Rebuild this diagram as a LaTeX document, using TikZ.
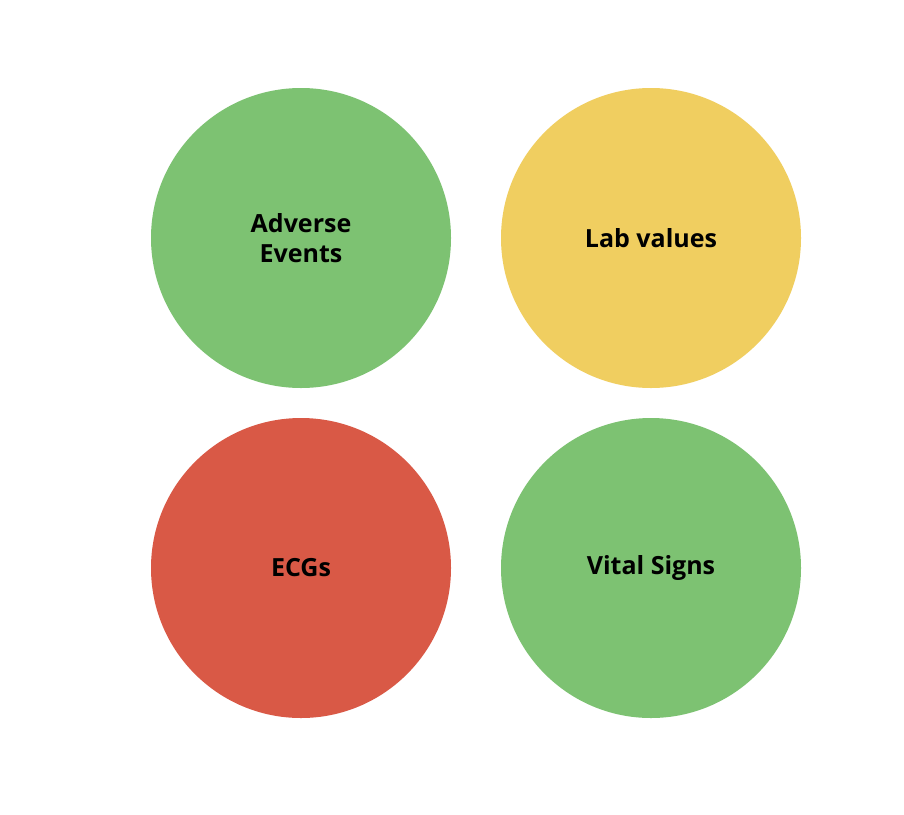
\documentclass[tikz,border=0pt]{standalone}
\usepackage{fontspec}
\setmainfont{Open Sans}
\definecolor{cgreen}{HTML}{7DC272}
\definecolor{cyellow}{HTML}{F0CE60}
\definecolor{cred}{HTML}{D95946}
\begin{document}
\begin{tikzpicture}[x=1pt,y=-1pt,
  blob/.style={circle,minimum size=300pt,inner sep=0pt,draw=none,align=center,
    font=\fontsize{25}{30}\selectfont\bfseries}]
\useasboundingbox[fill=white] (0,0) rectangle (904,814);
\node[blob,fill=cgreen] (ae) at (301,238) {Adverse\\Events};
\node[blob,fill=cyellow] (lab) at (651,238) {Lab values};
\node[blob,fill=cred] (ecg) at (301,568) {ECGs};
\node[blob,fill=cgreen] (vs) at (651,568) {Vital Signs};
\end{tikzpicture}
\end{document}
